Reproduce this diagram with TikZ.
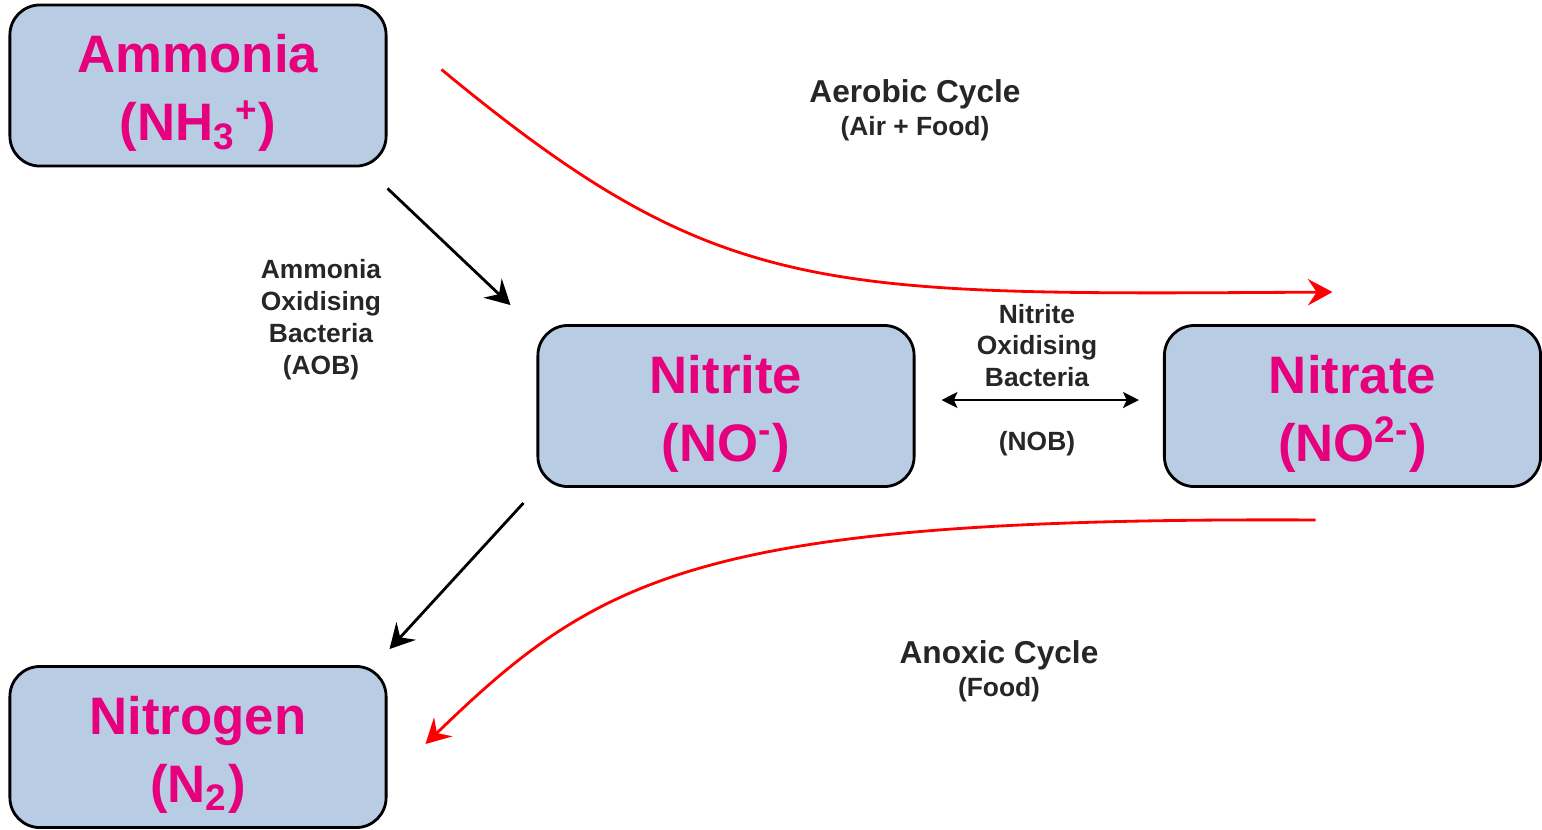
\documentclass[tikz,border=0pt]{standalone}
\usepackage{fontspec}
\setmainfont{Liberation Sans}
\usetikzlibrary{arrows.meta,positioning}
\definecolor{boxblue}{HTML}{B8CCE4}
\definecolor{chem}{HTML}{E6007E}
\definecolor{labgrey}{HTML}{262626}

\begin{document}
\begin{tikzpicture}[x=0.01cm, y=-0.01cm, >={Stealth[length=7pt,width=7.5pt,inset=2.5pt]}, line width=0.8pt]
	\tikzstyle{chembox}=[draw=black, fill=boxblue, rounded corners=0.3cm, minimum width=3.76cm, minimum height=1.61cm, align=center, text=chem, text height=34.5pt, font=\fontsize{15}{19.3}\selectfont\bfseries]
	\tikzstyle{lbl}=[align=center, text=labgrey, font=\fontsize{7.5}{9.07}\selectfont\bfseries]
	\tikzstyle{cyc}=[align=center, text=labgrey, font=\fontsize{9}{11}\selectfont\bfseries]
	\useasboundingbox (0,0) rectangle (1542,829);
	\node[chembox]  (amm)      at (198,85.5)   {Ammonia\\(NH\textsubscript{3}\textsuperscript{+})};
	\node[chembox]  (nitrite)  at (726,406)    {Nitrite\\(NO\textsuperscript{-})};
	\node[chembox]  (nitrate)  at (1352.5,406) {Nitrate\\(NO\textsuperscript{2-})};
	\node[chembox]  (nitrogen) at (198,747)    {Nitrogen\\(N\textsubscript{2})};
	% labels
	\node[cyc] (aer)  at (915,94)  {Aerobic Cycle};
	\node[lbl] (aerf) at (915,129) {(Air + Food)};
	\node[cyc] (anox)  at (999,655) {Anoxic Cycle};
	\node[lbl] (anoxf) at (999,690) {(Food)};
	\node[lbl] (aob) at (321,320) {Ammonia\\Oxidising\\Bacteria\\(AOB)};
	\node[lbl] (nob) at (1037,380) {Nitrite\\Oxidising\\Bacteria\\[9.07pt](NOB)};
	% end points
	\coordinate (s1) at ([shift={(54,-16)}]amm.east);
	\coordinate (e1) at ([shift={(-20,-32)}]nitrate.north);
	\coordinate (s2) at ([shift={(-37,32)}]nitrate.south);
	\coordinate (e2) at ([shift={(38,-3)}]nitrogen.east);
	\draw[->] ([shift={(0,21)}]amm.south east) -- ([shift={(-26,-19)}]nitrite.north west);
	\draw[->] ([shift={(-13,15)}]nitrite.south west) -- ([shift={(2,-16)}]nitrogen.north east);
	\draw[<->, >={Stealth[length=4.5pt,width=4.5pt,inset=1pt]}] ([shift={(26,-6)}]nitrite.east) -- ([shift={(-24,-6)}]nitrate.west);
	\draw[->, red] (s1) .. controls (720,300) and (820,295) .. (e1);
	\draw[->, red] (s2) .. controls (700,517) and (600,575) .. (e2);
\end{tikzpicture}
\end{document}
